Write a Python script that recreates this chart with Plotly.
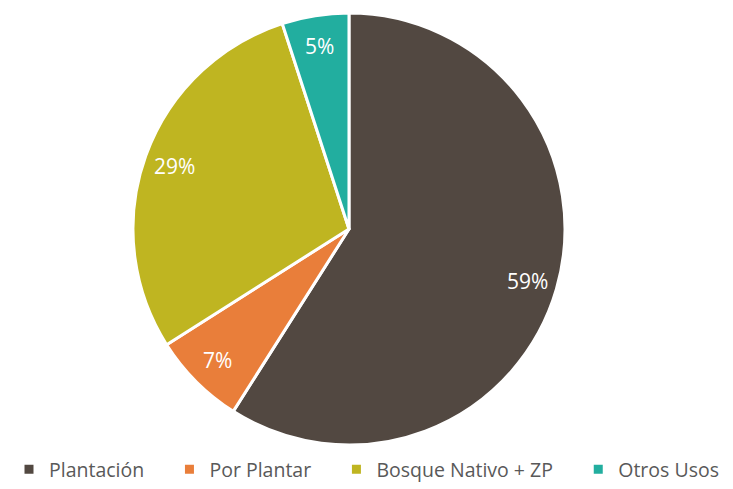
import math
import plotly.graph_objects as go

categories = ["Plantación", "Por Plantar", "Bosque Nativo + ZP", "Otros Usos"]
values = [59, 7, 29, 5]
colors = ["#524841", "#E97E3A", "#BFB521", "#22AE9F"]

dom_x = [0.1814, 0.7708]
dom_y = [0.09, 0.9734]

PAD = "\u00a0" * 4
fig = go.Figure(go.Pie(
    labels=[c + PAD if i < len(categories) - 1 else c for i, c in enumerate(categories)],
    values=values,
    sort=False,
    direction="clockwise",
    rotation=0,
    marker=dict(colors=colors, line=dict(color="white", width=3)),
    textinfo="none",
    domain=dict(x=dom_x, y=dom_y),
    hovertemplate="%{label}: %{percent}<extra></extra>",
))

# percentage labels placed near the outer part of each slice
W, H = 733, 489
cx = (dom_x[0] + dom_x[1]) / 2
cy = (dom_y[0] + dom_y[1]) / 2
R_px = min((dom_x[1] - dom_x[0]) * W, (dom_y[1] - dom_y[0]) * H) / 2
total = sum(values)
cum = 0
annotations = []
for v in values:
    mid = (cum + v / 2) / total * 2 * math.pi
    cum += v
    r = 0.86 * R_px
    ax = cx + r * math.sin(mid) / W
    ay = cy + r * math.cos(mid) / H
    annotations.append(dict(
        x=ax, y=ay, xref="paper", yref="paper",
        xanchor="center", yanchor="middle",
        text=f"{round(v / total * 100)}%", showarrow=False,
        font=dict(color="white", size=21, family="Open Sans"),
    ))

fig.update_layout(
    width=W, height=H,
    margin=dict(l=0, r=0, t=0, b=0),
    paper_bgcolor="white",
    plot_bgcolor="white",
    showlegend=True,
    annotations=annotations,
    legend=dict(
        orientation="h",
        x=0.5, xanchor="center",
        y=0, yanchor="bottom",
        font=dict(size=19.5, color="#595959", family="Open Sans"),
        itemwidth=30,
    ),
)

fig.write_html("out.html", config={"displayModeBar": False},
               post_script="document.body.style.margin='0';")
